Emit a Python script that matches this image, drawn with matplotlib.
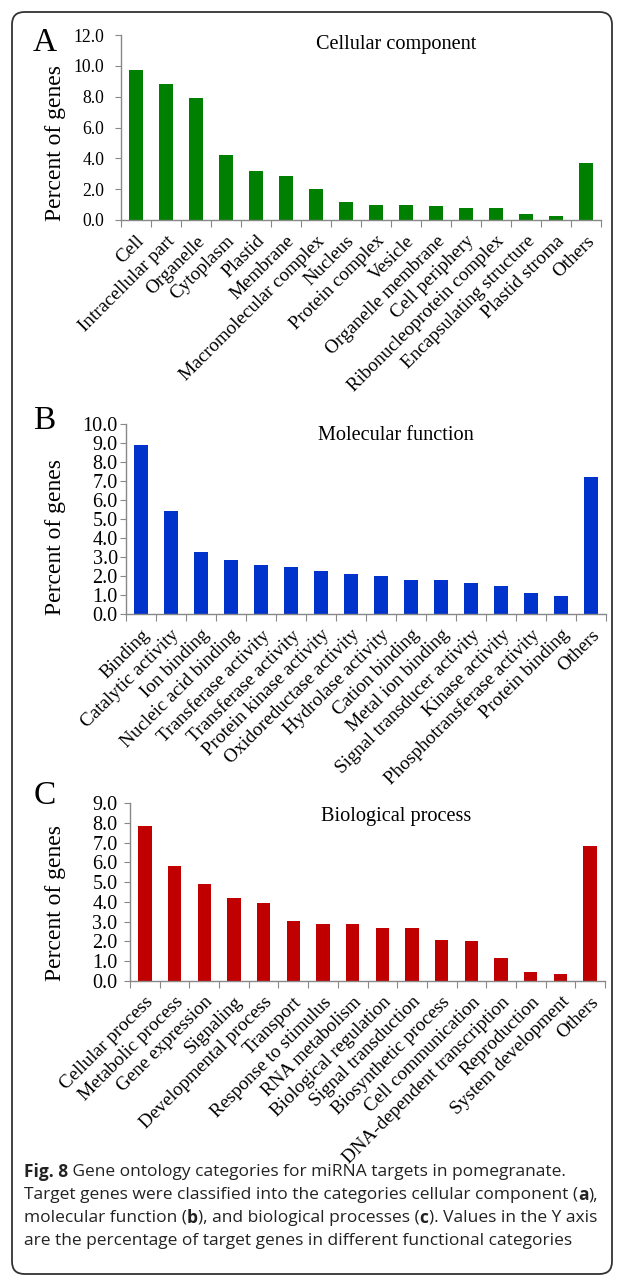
import numpy as np
import matplotlib
matplotlib.use('Agg')
from matplotlib import pyplot as plt
from matplotlib.patches import FancyBboxPatch

# 数据
cc_labels = ['Cell', 'Intracellular part', 'Organelle', 'Cytoplasm', 'Plastid', 'Membrane',
             'Macromolecular complex', 'Nucleus', 'Protein complex', 'Vesicle',
             'Organelle membrane', 'Cell periphery', 'Ribonucleoprotein complex',
             'Encapsulating structure', 'Plastid stroma', 'Others']
cc_values = [9.7, 8.8, 7.9, 4.2, 3.15, 2.85, 2.0, 1.2, 0.95, 0.95, 0.9, 0.8, 0.8, 0.4, 0.25, 3.7]

mf_labels = ['Binding', 'Catalytic activity', 'Ion binding', 'Nucleic acid binding',
             'Transferase activity', 'Transferase activity', 'Protein kinase activity',
             'Oxidoreductase activity', 'Hydrolase activity', 'Cation binding',
             'Metal ion binding', 'Signal transducer activity', 'Kinase activity',
             'Phosphotransferase activity', 'Protein binding', 'Others']
mf_values = [8.9, 5.4, 3.25, 2.85, 2.6, 2.5, 2.27, 2.1, 2.02, 1.8, 1.8, 1.63, 1.47, 1.13, 0.97, 7.2]

bp_labels = ['Cellular process', 'Metabolic process', 'Gene expression', 'Signaling',
             'Developmental process', 'Transport', 'Response to stimulus', 'RNA metabolism',
             'Biological regulation', 'Signal transduction', 'Biosynthetic process',
             'Cell communication', 'DNA-dependent transcription', 'Reproduction',
             'System development', 'Others']
bp_values = [7.85, 5.8, 4.9, 4.2, 3.92, 3.05, 2.87, 2.87, 2.7, 2.7, 2.07, 2.0, 1.18, 0.45, 0.37, 6.85]

W, H = 625, 1286
fig = plt.figure(figsize=(W / 100, H / 100), dpi=100)
serif = 'Liberation Serif'


def px(x, y):
    return x / W, 1 - y / H


# 外框
box = FancyBboxPatch(px(12, 1274), (612 - 12) / W, (1274 - 12) / H,
                     boxstyle='round,pad=0,rounding_size=0.02', transform=fig.transFigure,
                     fill=False, edgecolor='#333333', linewidth=1.3,
                     mutation_aspect=W / H)
fig.patches.append(box)

# 字母, 标题, 标签, 数值, 颜色, 轴区域(px), y上限, 步长, y刻度字号, y刻度间距, 字母位置, ylabel中心y, 标题y
panels = [
    ('A', 'Cellular component', cc_labels, cc_values, '#008000', (121, 601, 35, 220), 12, 2, 12.7, 8, (45, 43), 143, 45),
    ('B', 'Molecular function', mf_labels, mf_values, '#0033CC', (126, 606, 424, 614), 10, 1, 14.5, 2, (44, 421), 537, 435),
    ('C', 'Biological process', bp_labels, bp_values, '#C00000', (130, 605, 803, 981), 9, 1, 14.5, 5, (45, 796), 903, 817),
]

for letter, title, labels, values, color, (l, r, t, b), ymax, step, yfs, ypad, lpos, yl, ty in panels:
    ax = fig.add_axes([l / W, 1 - b / H, (r - l) / W, (b - t) / H])
    x = np.arange(len(values))
    ax.bar(x, values, width=0.45, color=color)
    ax.set_xlim(-0.5, len(values) - 0.5)
    ax.set_ylim(0, ymax)
    for s in ['top', 'right']:
        ax.spines[s].set_visible(False)
    for s in ['left', 'bottom']:
        ax.spines[s].set_color('#888888')
        ax.spines[s].set_linewidth(1.0)
    yt = np.arange(0, ymax + 0.01, step)
    ax.set_yticks(yt)
    ax.set_yticklabels(['%.1f' % v for v in yt], fontfamily=serif, fontsize=yfs)
    ax.tick_params(axis='y', direction='out', length=4, color='#888888', pad=ypad)
    # 刻度线放在类别之间
    ax.set_xticks(np.arange(-0.5, len(values), 1))
    ax.set_xticklabels([])
    ax.tick_params(axis='x', which='major', direction='out', length=5, color='#888888')
    ax.set_xticks(x, minor=True)
    ax.set_xticklabels(labels, minor=True, rotation=45, ha='right', rotation_mode='anchor',
                       fontfamily=serif, fontsize=13.8)
    ax.tick_params(axis='x', which='minor', length=0, pad=9)
    fig.text(*px(*lpos), letter, fontfamily=serif, fontsize=24, ha='center', va='center')
    fig.text(*px(55, yl), 'Percent of genes', fontfamily=serif, fontsize=17,
             rotation=90, ha='center', va='center')
    fig.text(*px(396, ty), title, fontfamily=serif, fontsize=14.6, ha='center', va='center')

# 图注
caption = [
    [('Fig. 8', True), (' Gene ontology categories for miRNA targets in pomegranate.', False)],
    [('Target genes were classified into the categories cellular component (', False), ('a', True), ('),', False)],
    [('molecular function (', False), ('b', True), ('), and biological processes (', False), ('c', True),
     ('). Values in the Y axis', False)],
    [('are the percentage of target genes in different functional categories', False)],
]
renderer = fig.canvas.get_renderer()
for i, line in enumerate(caption):
    xpos = 24
    y = 1172 + i * 23
    for seg, bold in line:
        tx = fig.text(*px(xpos, y), seg, fontfamily='Open Sans', fontsize=12.55,
                      fontweight='bold' if bold else 'normal', color='#222222',
                      ha='left', va='center')
        ext = tx.get_window_extent(renderer)
        xpos += ext.width

plt.savefig('out.png', dpi=100)
